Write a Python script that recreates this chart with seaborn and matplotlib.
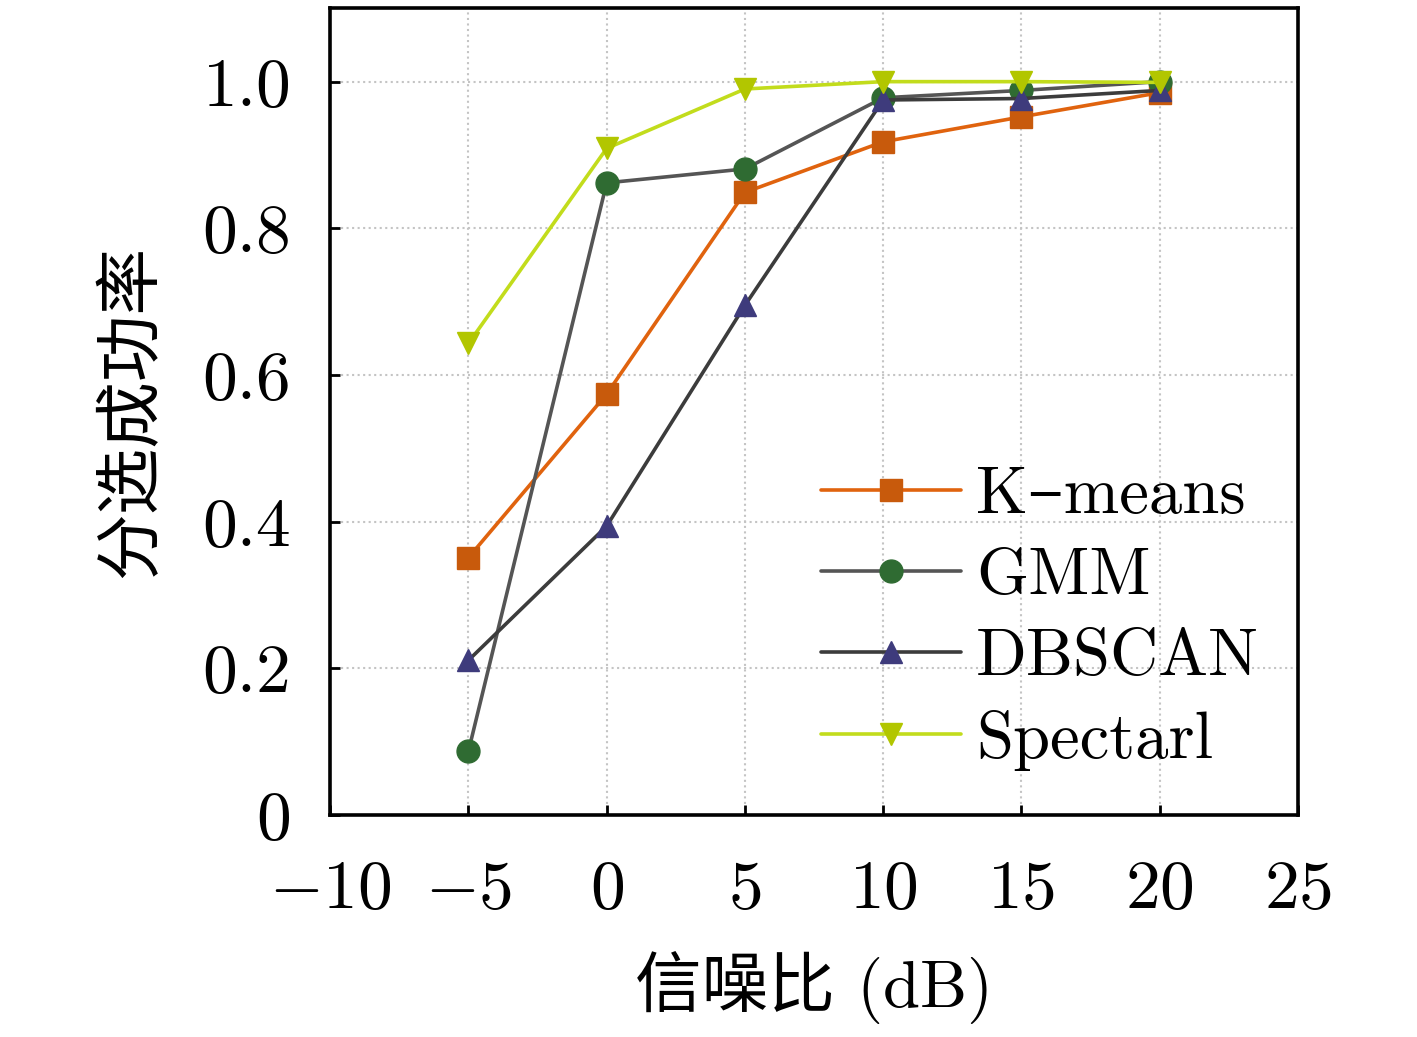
import matplotlib
matplotlib.use('Agg')
import matplotlib.pyplot as plt
import seaborn as sns
import pandas as pd
from matplotlib.ticker import FuncFormatter

sns.set_style('ticks')
plt.rcParams['font.family'] = ['cmr10', 'Noto Sans CJK SC', 'DejaVu Serif']
plt.rcParams['mathtext.fontset'] = 'cm'
plt.rcParams['axes.formatter.use_mathtext'] = True
plt.rcParams['axes.unicode_minus'] = True
for k in ['text.color', 'axes.labelcolor', 'xtick.color', 'ytick.color']:
    plt.rcParams[k] = 'black'

snr = [-5, 0, 5, 10, 15, 20]
kmeans = [0.351, 0.574, 0.849, 0.918, 0.952, 0.985]
gmm = [0.087, 0.862, 0.881, 0.978, 0.988, 1.000]
dbscan = [0.211, 0.394, 0.695, 0.975, 0.977, 0.988]
spectral = [0.643, 0.909, 0.990, 1.000, 1.000, 0.999]

series = [
    ('K–means', kmeans, 's', '#e0630e', '#c85a0c'),
    ('GMM', gmm, 'o', '#555555', '#2f6b32'),
    ('DBSCAN', dbscan, '^', '#3c3c3c', '#3e3b7c'),
    ('Spectarl', spectral, 'v', '#c2dc1c', '#b2c600'),
]

fig = plt.figure(figsize=(14.17, 10.37), dpi=100)
ax = fig.add_axes([0.233, 0.214, 0.683, 0.778])

for name, vals, mk, lc, mc in series:
    df = pd.DataFrame({'snr': snr, 'rate': vals})
    sns.lineplot(data=df, x='snr', y='rate', ax=ax, label=name, color=lc,
                 linewidth=2.6, marker=mk, markersize=16.5,
                 markerfacecolor=mc, markeredgecolor=mc, markeredgewidth=1)

ax.set_xlim(-10, 25)
ax.set_ylim(0, 1.1)
ax.set_xticks([-10, -5, 0, 5, 10, 15, 20, 25])
ax.set_yticks([0, 0.2, 0.4, 0.6, 0.8, 1.0])
ax.yaxis.set_major_formatter(FuncFormatter(lambda v, p: '0' if v == 0 else f'{v:.1f}'))
ax.grid(True, linestyle=':', color='#c4c4c4', linewidth=1.5)
ax.tick_params(direction='in', length=7, width=2, labelsize=50)
ax.tick_params(axis='x', pad=32)
ax.tick_params(axis='y', pad=28)
for s in ax.spines.values():
    s.set_linewidth(2.6)
    s.set_color('black')

ax.set_xlabel('信噪比 (dB)', fontsize=48, labelpad=22)
ax.set_ylabel('分选成功率', fontsize=48, labelpad=28)

ax.legend(loc='upper left', bbox_to_anchor=(0.48, 0.465), frameon=False,
          fontsize=48, handlelength=2.1, handletextpad=0.22, labelspacing=0.32,
          borderaxespad=0)

fig.savefig('out.png', dpi=100)
